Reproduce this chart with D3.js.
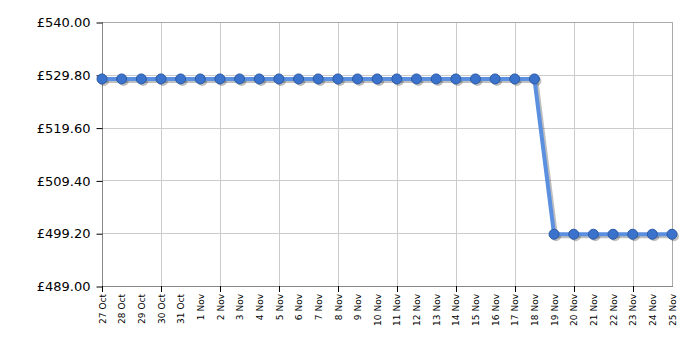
<!DOCTYPE html>
<html><head><meta charset="utf-8">
<script src="https://cdn.jsdelivr.net/npm/d3@7"></script>
<style>body{margin:0;background:#fff;} svg{display:block;}</style>
</head><body>
<svg id="c" width="700" height="350"></svg>
<script>
const dates = ["27 Oct","28 Oct","29 Oct","30 Oct","31 Oct","1 Nov","2 Nov","3 Nov","4 Nov","5 Nov","6 Nov","7 Nov","8 Nov","9 Nov","10 Nov","11 Nov","12 Nov","13 Nov","14 Nov","15 Nov","16 Nov","17 Nov","18 Nov","19 Nov","20 Nov","21 Nov","22 Nov","23 Nov","24 Nov","25 Nov"];
const prices = [529,529,529,529,529,529,529,529,529,529,529,529,529,529,529,529,529,529,529,529,529,529,529,499,499,499,499,499,499,499];
const yTicks = [489.00,499.20,509.40,519.60,529.80,540.00];

const svg = d3.select("#c");
const L=102, R=672, T=22, B=286;
const x = d3.scalePoint().domain(dates).range([L,R]);
const y = d3.scaleLinear().domain([489,540]).range([B,T]);
const font = "DejaVu Sans, Verdana, sans-serif";

// horizontal grid
svg.append("g").selectAll("line").data(yTicks).join("line")
  .attr("x1",L).attr("x2",R).attr("y1",d=>Math.round(y(d))+0.5).attr("y2",d=>Math.round(y(d))+0.5)
  .attr("stroke","#cccccc");
// vertical grid every 3rd
const gridDates = dates.filter((d,i)=>i%3===0);
svg.append("g").selectAll("line").data(gridDates).join("line")
  .attr("x1",d=>Math.round(x(d))+0.5).attr("x2",d=>Math.round(x(d))+0.5).attr("y1",T).attr("y2",B)
  .attr("stroke","#cccccc");
// frame
svg.append("rect").attr("x",L+0.5).attr("y",T+0.5).attr("width",R-L).attr("height",B-T)
  .attr("fill","none").attr("stroke","#aaaaaa");
svg.append("line").attr("x1",L+0.5).attr("x2",L+0.5).attr("y1",T).attr("y2",B+1).attr("stroke","#888");
svg.append("line").attr("x1",L).attr("x2",R+1).attr("y1",B+0.5).attr("y2",B+0.5).attr("stroke","#888");

// y axis
const yAxis = d3.axisLeft(y).tickValues(yTicks).tickSize(6).tickSizeOuter(0).tickFormat(d=>"£"+d.toFixed(2));
const gy = svg.append("g").attr("transform",`translate(${L+0.5},0.5)`).call(yAxis);
gy.select(".domain").remove();
gy.selectAll(".tick line").attr("stroke","#000");
gy.selectAll(".tick text").attr("font-family",font).attr("font-size","13px").attr("fill","#000").attr("x",-12);

// x axis
const xAxis = d3.axisBottom(x).tickSize(0).tickSizeOuter(0);
const gx = svg.append("g").attr("transform",`translate(0,${B})`).call(xAxis);
gx.select(".domain").remove();
gx.selectAll(".tick text").attr("font-family",font).attr("font-size","9px").attr("fill","#000")
  .attr("text-anchor","end").attr("transform","rotate(-90)").attr("x",-8).attr("y",0).attr("dy","0.35em");
svg.append("g").selectAll("line").data(gridDates).join("line")
  .attr("x1",d=>Math.round(x(d))+0.5).attr("x2",d=>Math.round(x(d))+0.5).attr("y1",B).attr("y2",B+6)
  .attr("stroke","#000");

// series
const pts = dates.map((d,i)=>({d, v:prices[i]}));
const line = d3.line().x(p=>x(p.d)).y(p=>y(p.v));
// shadow
svg.append("path").datum(pts).attr("d",line).attr("transform","translate(2,2)")
  .attr("fill","none").attr("stroke","#000").attr("stroke-opacity",0.25).attr("stroke-width",4);
svg.append("g").attr("transform","translate(2,2)").selectAll("circle").data(pts).join("circle")
  .attr("cx",p=>x(p.d)).attr("cy",p=>y(p.v)).attr("r",5).attr("fill","#000").attr("fill-opacity",0.25);
svg.append("path").datum(pts).attr("d",line)
  .attr("fill","none").attr("stroke","#5b8fe0").attr("stroke-width",4).attr("stroke-linejoin","round");
svg.append("g").selectAll("circle").data(pts).join("circle")
  .attr("cx",p=>x(p.d)).attr("cy",p=>y(p.v)).attr("r",5)
  .attr("fill","#3a72cc").attr("stroke","#2b5aa6").attr("stroke-width",1);
</script>
</body></html>
